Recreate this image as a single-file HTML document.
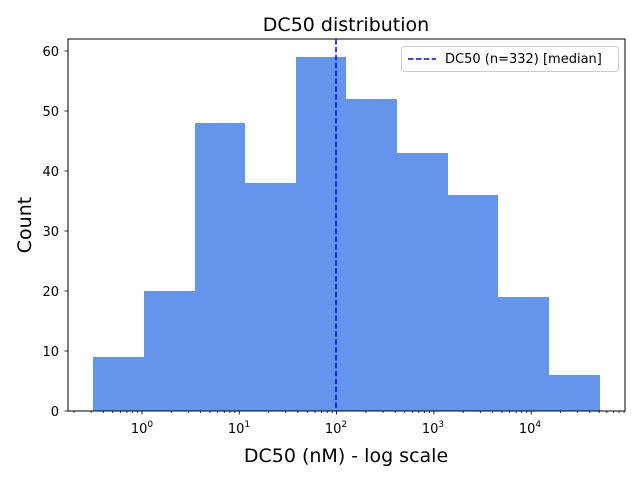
<!DOCTYPE html>
<html><head><meta charset="utf-8"><style>
html,body{margin:0;padding:0;background:#fff;}
svg{display:block;font-family:"DejaVu Sans","Liberation Sans",sans-serif;}
</style></head><body>
<svg id="s" width="640" height="480" xmlns="http://www.w3.org/2000/svg">
<rect width="640" height="480" fill="#fff"/>
<g fill="#6495ED">
<rect x="93" y="357" width="51" height="54"/>
<rect x="144" y="291" width="51" height="120"/>
<rect x="195" y="123" width="50" height="288"/>
<rect x="245" y="183" width="51" height="228"/>
<rect x="296" y="57" width="50" height="354"/>
<rect x="346" y="99" width="51" height="312"/>
<rect x="397" y="153" width="51" height="258"/>
<rect x="448" y="195" width="50" height="216"/>
<rect x="498" y="297" width="51" height="114"/>
<rect x="549" y="375" width="51" height="36"/>
</g>
<line x1="336" y1="39" x2="336" y2="411" stroke="#0000ff" stroke-width="1.5" stroke-dasharray="5.5,2.4"/>
<rect x="68" y="39" width="557" height="372" fill="none" stroke="#000" stroke-width="1"/>
<g id="ticks" stroke="#000" stroke-width="0.8"></g>
<g font-size="13" text-anchor="end">
<text x="59" y="416">0</text><text x="59" y="356">10</text><text x="59" y="296">20</text>
<text x="59" y="236">30</text><text x="59" y="176">40</text><text x="59" y="116">50</text><text x="59" y="56">60</text>
</g>
<g font-size="13" text-anchor="middle">
<text x="142" y="433">10<tspan font-size="9" dy="-6">0</tspan></text>
<text x="239" y="433">10<tspan font-size="9" dy="-6">1</tspan></text>
<text x="336" y="433">10<tspan font-size="9" dy="-6">2</tspan></text>
<text x="433" y="433">10<tspan font-size="9" dy="-6">3</tspan></text>
<text x="530" y="433">10<tspan font-size="9" dy="-6">4</tspan></text>
</g>
<text x="346" y="462" font-size="19" text-anchor="middle">DC50 (nM) - log scale</text>
<text x="31" y="225" font-size="19" text-anchor="middle" transform="rotate(-90 31 225)">Count</text>
<text x="346" y="31" font-size="19" text-anchor="middle">DC50 distribution</text>
<rect x="401.5" y="46.5" width="217" height="25" rx="3" fill="#fff" stroke="#ccc"/>
<line x1="408" y1="59" x2="436" y2="59" stroke="#0000ff" stroke-width="1.5" stroke-dasharray="5.5,2.4"/>
<text x="445" y="63" font-size="13">DC50 (n=332) [median]</text>
</svg>
<script>
var g=document.getElementById('ticks'),ns='http://www.w3.org/2000/svg';
function L(x1,y1,x2,y2){var l=document.createElementNS(ns,'line');l.setAttribute('x1',x1);l.setAttribute('y1',y1);l.setAttribute('x2',x2);l.setAttribute('y2',y2);g.appendChild(l);}
for(var i=0;i<=6;i++){var y=411-60*i;L(64.5,y,68,y);}
var x0=142,d=97.3;
for(var k=-1;k<=5;k++){for(var m=1;m<10;m++){var x=x0+d*(k+Math.log10(m));if(x<68||x>625)continue;if(m==1)L(x,411,x,414.5);else L(x,411,x,413);}}
</script>
</body></html>
